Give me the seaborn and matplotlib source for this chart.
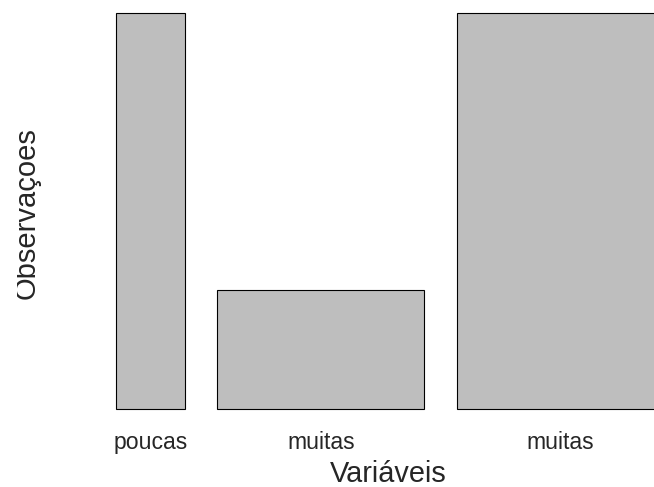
import numpy as np
import seaborn as sns
import matplotlib.pyplot as plt
from matplotlib.transforms import Bbox

# bar widths ~ number of variables, heights ~ number of observations
labels = ['poucas', 'muitas', 'muitas']
widths = [1, 3, 3]
heights = [1.0, 0.3, 1.0]
gap = 0.47

sns.set_theme(style='white')
plt.rcParams['font.family'] = ['Liberation Sans', 'DejaVu Sans']

fig = plt.figure(figsize=(6.54, 4.87), dpi=100)
ax = fig.add_axes([116 / 654, 78 / 487, 538 / 654, 396 / 487])

w = np.array(widths, dtype=float)
lefts = np.concatenate([[0], np.cumsum(w[:-1] + gap)])
centers = lefts + w / 2

ax.bar(lefts, heights, width=w, align='edge', color='#BEBEBE',
       edgecolor='black', linewidth=0.8, clip_on=False)

ax.set_xlim(0, 538 / 69)
ax.set_ylim(0, 1)
ax.set_xticks(centers)
ax.set_xticklabels(labels, fontsize=16.6)
ax.tick_params(axis='x', length=0, pad=16)
ax.set_yticks([])
sns.despine(ax=ax, left=True, bottom=True)

fig.text(388 / 654, 13 / 487, 'Variáveis', fontsize=20.8,
         ha='center', va='center')
ylab = fig.text(27 / 654, (487 - 213) / 487, 'Observaçoes', fontsize=21,
                rotation=90, ha='center', va='center')
# the left edge of the label is cut off in the original
ylab.set_clip_box(Bbox.from_extents(17, 0, 654, 487))
ylab.set_clip_on(True)

fig.savefig('out.png', dpi=100)
